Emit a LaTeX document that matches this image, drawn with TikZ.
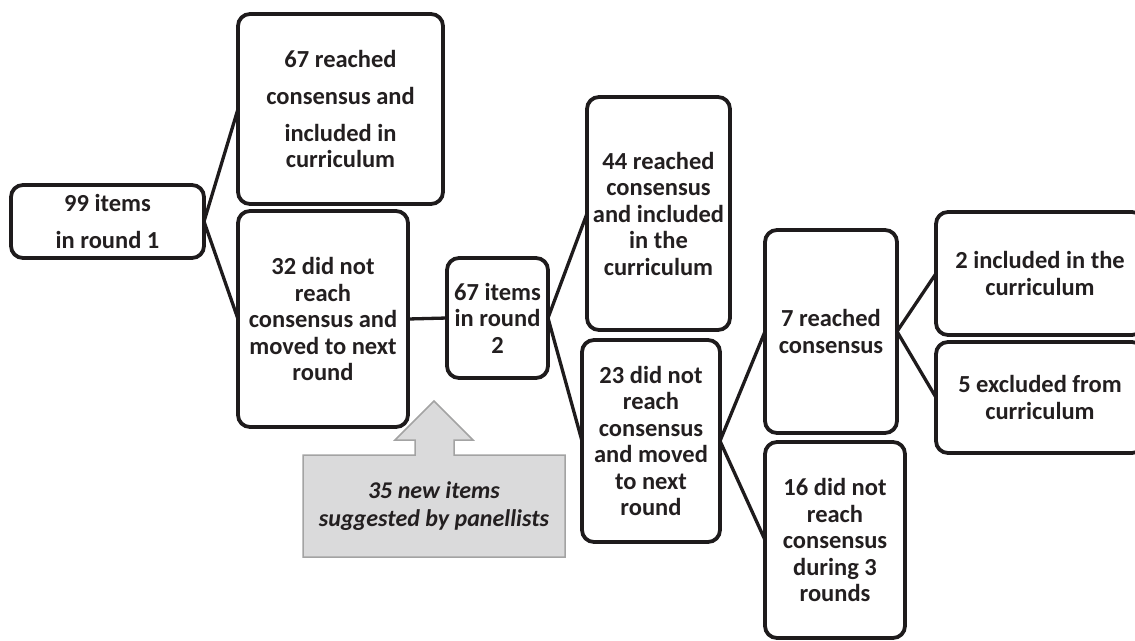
\documentclass[tikz,border=0pt]{standalone}
\usepackage{fontspec}
\setmainfont{Carlito}
\definecolor{boxc}{HTML}{1E1B1C}
\definecolor{txt}{HTML}{231F20}
\definecolor{callfill}{HTML}{DADADB}
\definecolor{calldraw}{HTML}{A3A3A3}
\begin{document}
\begin{tikzpicture}[x=1pt,y=-1pt,
  box/.style={draw=boxc, line width=3.8pt, rounded corners=12pt, inner sep=0pt, outer sep=0pt,
    align=center, text=txt, font=\fontsize{24.5}{26.5}\selectfont\bfseries},
  conn/.style={draw=boxc, line width=3.3pt},
  calltext/.style={align=center, text=txt, font=\fontsize{24}{28}\selectfont\bfseries\itshape}]
\path[use as bounding box, clip] (0,0) rectangle (1135,640);
% boxes
\node[box, minimum width=193pt, minimum height=73pt] (a) at (107.5,221.5) {99 items\\[10.5pt]in round 1};
\node[box, minimum width=205pt, minimum height=190pt] (b) at (340.5,109) {67 reached\\[10.5pt]consensus and\\[10.5pt]included in\\curriculum};
\node[box, minimum width=170pt, minimum height=216pt] (c) at (323,319) {32 did not\\reach\\consensus and\\moved to next\\round};
\node[box, minimum width=101pt, minimum height=120pt] (d) at (497.5,318) {67 items\\in round\\2};
\node[box, minimum width=143pt, minimum height=233pt] (e) at (658.5,213.5) {44 reached\\consensus\\and included\\in the\\curriculum};
\node[box, minimum width=138pt, minimum height=202pt] (f) at (651,441) {23 did not\\reach\\consensus\\and moved\\to next\\round};
\node[box, minimum width=132pt, minimum height=203pt] (g) at (831,331.5) {7 reached\\consensus};
\node[box, minimum width=140pt, minimum height=196pt] (h) at (835,540) {16 did not\\reach\\consensus\\during 3\\rounds};
\node[box, minimum width=208pt, minimum height=123pt] (i) at (1040,273.5) {2 included in the\\curriculum};
\node[box, minimum width=208pt, minimum height=111pt] (j) at (1040,397.5) {5 excluded from\\curriculum};
% connectors
\draw[conn] (a.east) -- (b.west);
\draw[conn] (a.east) -- (c.west);
\draw[conn] (c.east) -- (d.west);
\draw[conn] (d.east) -- (e.west);
\draw[conn] (d.east) -- (f.west);
\draw[conn] (f.east) -- (g.west);
\draw[conn] (f.east) -- (h.west);
\draw[conn] (g.east) -- (i.west);
\draw[conn] (g.east) -- (j.west);
% callout
\draw[fill=callfill, draw=calldraw, line width=1.5pt]
  (303,455) -- (415,455) -- (415,440) -- (395,440) -- (434,401) -- (473,440)
  -- (454,440) -- (454,455) -- (565,455) -- (565,557) -- (303,557) -- cycle;
\node[calltext] (k) at (434,506) {35 new items\\suggested by panellists};
\end{tikzpicture}
\end{document}
